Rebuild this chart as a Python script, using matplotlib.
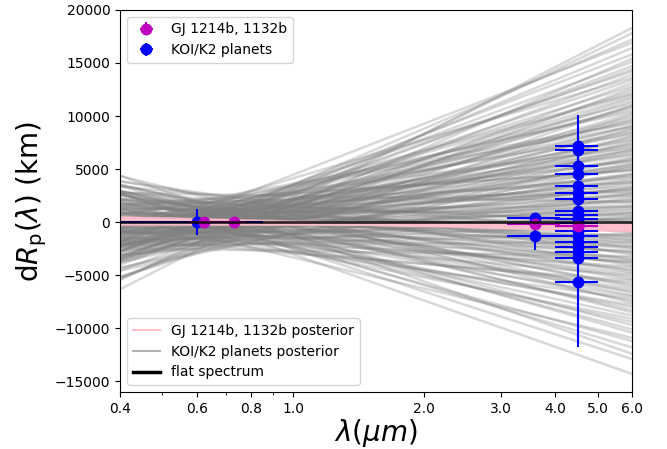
import matplotlib
matplotlib.use("Agg")
import matplotlib.pyplot as plt
from matplotlib.lines import Line2D

# ---------------- data ----------------
# KOI/K2 posterior lines: value near the pivot wavelength and at the right edge (6.0 um)
koi_pivot_wl = 0.68
koi_right_wl = 6.0
koi_post_pivot = [-1500, 600, 300, 900, 800, 200, 1300, -500, 400, -1100,
                  700, -200, 1500, 100, -700, 1000, -400, 300, 2000, -900,
                  500, -100, 1200, -600, 800, -1300, 0, 1700, -250, 450,
                  -1600, 950, 150, -450, 1100, -50, 650, -1000, 350, 1400,
                  -350, 750, -150, 2300, -750, 250, 1050, -550, 50, -1200,
                  850, -850, 550, 1600, -250, 150, -1800, 700, 300, -400,
                  1250, -650, 900, -100, 450, -1400, 200, 1800, -950, 600,
                  -300, 1000, -2100, 400, 100, -500, 1350, -750, 800, -200,
                  2500, -1050, 250, 650, -1500, 1150, -350, 500, -2400, 950,
                  -100, 1500, -650, 300, -1250, 750, -400, -800, 200, -1700,
                  -200, -300, -600,
                  -900, 1800, -1300, 600, 2100, -1700, 1100, -600, 1600, -2200,
                  300, 2400, -1000, 1300, -1900, 700, -300, 2000, -1400, 900,
                  -2500, 1500, -700, 200, 2200, -1600, 1000, -200, 1900, -1100,
                  500, -2000, 1400, -500, 2600, -1300, 800, -2300, 1200, -400,
                  1700, -1800, 600, -900, 2100, -1500, 0, 1300, -2100, 400,
                  1800, -1200, 900, -2600, 1500, -600, 2300, -1000, 1100, -1700,
                  700, -2200, 1600, -300, 1000, -1900, 2000, -800, 1200, -1400,
                  500, 700, -600, 1100, -2000, 2200, -2400, 1900, -1500, 2500, -1800]
koi_post_right = [18300, 17200, 16400, 15800, 15100, 14700, 14200, 13900, 13400, 13100,
                  12800, 12350, 12100, 11800, 11650, 11200, 10950, 10800, 10400, 10250,
                  9900, 9700, 9450, 9100, 8950, 8700, 8400, 8250, 8000, 7800,
                  7550, 7300, 7150, 6900, 6700, 6550, 6300, 6100, 5850, 5700,
                  5450, 5250, 5000, 4850, 4600, 4450, 4200, 4050, 3800, 3650,
                  3400, 3200, 3050, 2800, 2650, 2400, 2250, 2000, 1850, 1600,
                  1450, 1200, 1000, 850, 600, 400, 250, 0, -200, -450,
                  -600, -850, -1100, -1300, -1550, -1750, -2000, -2300, -2500, -2800,
                  -3050, -3350, -3600, -3900, -4200, -4550, -4850, -5200, -5500, -5900,
                  -6300, -6650, -7000, -7400, -7800, -8300, -8800, -9400, -10100, -10900,
                  -11800, -12900, -14300,
                  17800, 16900, 15400, 14400, 13600, 12600, 12000, 11400, 10600, 10100,
                  9600, 9300, 8800, 8500, 8100, 7700, 7400, 7000, 6800, 6400,
                  6000, 5800, 5500, 5100, 4900, 4500, 4300, 3900, 3700, 3300,
                  3100, 2700, 2500, 2100, 1900, 1500, 1300, 900, 700, 300,
                  100, -300, -500, -700, -900, -1200, -1400, -1700, -1900, -2200,
                  -2400, -2700, -2900, -3200, -3500, -3800, -4100, -4400, -4700, -5000,
                  -5400, -5700, -6100, -6500, -6900, -7200, -7600, -8000, -8500, -9100,
                  -9700, -10400, -11200, -12400, 11000, 9000, 5300, 2900, 500, -1000, -3700]

# GJ 1214b, 1132b posterior lines: value at 0.4 um and at 6.0 um
gj_left_wl = 0.4
gj_right_wl = 6.0
gj_post_left = [400, 250, 100, -50, 300, 150, -150, 350, 0, 200, -250, 50, 450, -100, 250]
gj_post_right = [-800, -600, -450, -300, -700, -500, -250, -850, -400, -550, -200, -350, -750, -300, -650]

# KOI/K2 planets data points
koi_wl = [0.6, 3.6, 3.6] + [4.5] * 19
koi_wl_err = [0.25, 0.5, 0.5] + [0.5] * 19
koi_dr = [0, 350, -1300,
          7200, 6800, 5300, 4500, 3400, 2700, 2200, 1050, 700, 300,
          -100, -400, -850, -1350, -1850, -2300, -2800, -3400, -5600]
koi_dr_err = [1250, 300, 1300,
              2850, 1500, 1200, 1000, 1100, 900, 1000, 900, 800, 700,
              600, 700, 800, 900, 800, 900, 1000, 1300, 6150]

# GJ 1214b, 1132b data points
gj_wl = [0.625, 0.73, 3.6, 4.5]
gj_wl_err = [0.05, 0.05, 0.5, 0.5]
gj_dr = [0, 0, -190, -350]
gj_dr_err = [100, 100, 150, 200]

xticks_major = [0.4, 0.6, 0.8, 1.0, 2.0, 3.0, 4.0, 5.0, 6.0]
xticks_minor = [0.5, 0.7, 0.9]
yticks = [-15000, -10000, -5000, 0, 5000, 10000, 15000, 20000]

# ---------------- plot ----------------
fig = plt.figure(figsize=(6.67, 4.49), dpi=100)
ax = fig.add_axes([0.18, 0.127, 0.7675, 0.851])
ax.set_xscale('log')
ax.set_xlim(0.4, 6.0)
ax.set_ylim(-16000, 20000)

for c, r in zip(koi_post_pivot, koi_post_right):
    ax.axline((koi_pivot_wl, c), (koi_right_wl, r), color='gray', alpha=0.3, lw=1.8, zorder=1)

for l, r in zip(gj_post_left, gj_post_right):
    ax.plot([gj_left_wl, gj_right_wl], [l, r], color='pink', alpha=0.6, lw=2.0, zorder=1.5)

h_koi = ax.errorbar(koi_wl, koi_dr, xerr=koi_wl_err, yerr=koi_dr_err, fmt='o', color='b',
                    ms=7.5, elinewidth=1.5, capsize=0, zorder=2)
h_gj = ax.errorbar(gj_wl, gj_dr, xerr=gj_wl_err, yerr=gj_dr_err, fmt='o', color='m',
                   ms=7.5, elinewidth=1.5, capsize=0, zorder=2.1)

ax.axhline(0, color='k', lw=2, alpha=0.8, zorder=3)

ax.set_xticks(xticks_major)
ax.set_xticklabels(['%.1f' % v for v in xticks_major])
ax.set_xticks(xticks_minor, minor=True)
ax.set_xticklabels([], minor=True)
ax.set_yticks(yticks)
ax.tick_params(labelsize=10)

ax.set_xlabel(r'$\lambda (\mu m)$', fontsize=20, labelpad=1)
ax.set_ylabel(r'd$R_{\rm p}(\lambda)$ (km)', fontsize=20)

leg1 = ax.legend([h_gj, h_koi], ['GJ 1214b, 1132b', 'KOI/K2 planets'],
                 loc='upper left', fontsize=10)
ax.add_artist(leg1)
line_handles = [Line2D([], [], color='pink', lw=1.5),
                Line2D([], [], color='gray', alpha=0.6, lw=1.5),
                Line2D([], [], color='k', lw=2.5)]
ax.legend(line_handles, ['GJ 1214b, 1132b posterior', 'KOI/K2 planets posterior', 'flat spectrum'],
          loc='lower left', fontsize=10)

fig.savefig('out.png', dpi=100)
